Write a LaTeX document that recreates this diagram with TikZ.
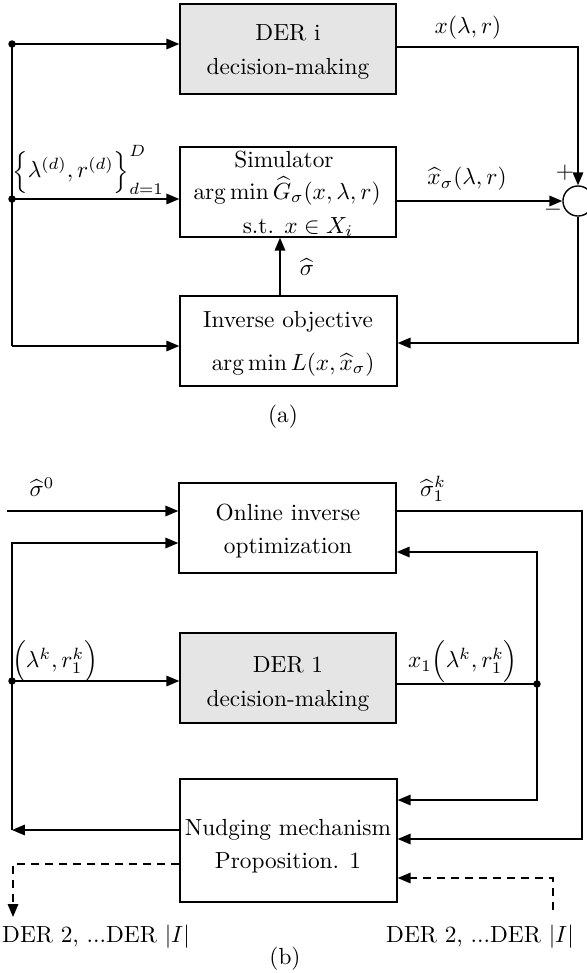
\documentclass[tikz,border=0pt]{standalone}
\usetikzlibrary{arrows.meta,fit}
\begin{document}
\begin{tikzpicture}[x=0.429pt,y=-0.429pt,
  box/.style={draw, line width=0.6pt, inner sep=0pt},
  greybox/.style={fill=black!10},
  plain/.style={line width=0.6pt},
  conn/.style={line width=0.6pt, -{Triangle[length=5.5pt,width=4.5pt]}},
  dashline/.style={dash pattern=on 3.6pt off 2.4pt},
  txt/.style={inner sep=0pt},
  jdot/.style={circle, fill, inner sep=0pt, minimum size=3.2pt}
]
\useasboundingbox (0,0) rectangle (586,973);

% ---------------- (a) ----------------
\coordinate (derNW) at (180,4);  \coordinate (derSE) at (396,94);
\coordinate (simNW) at (180,147); \coordinate (simSE) at (396,237);
\coordinate (invNW) at (180,296); \coordinate (invSE) at (397,386);
\node[box, greybox, fit=(derNW)(derSE)] (der) {};
\node[box, fit=(simNW)(simSE)] (sim) {};
\node[box, fit=(invNW)(invSE)] (inv) {};
\node[draw, circle, line width=0.6pt, inner sep=0pt, minimum size=12.9pt] (sum) at (578,201) {};

\node[txt, anchor=base] (derA1) at (288,40) {DER i};
\node[txt, anchor=base] (derA2) at (288,74) {decision-making};
\node[txt, anchor=base] (simA1) at (284,167) {Simulator};
\node[txt, anchor=base] (simA2) at (287,199) {$\arg\min {\widehat{G}}_{\sigma}(x,\lambda,r)$};
\node[txt, anchor=base] (simA3) at (298,233) {s.t. $x\in X_i$};
\node[txt, anchor=base] (invA1) at (288,327) {Inverse objective};
\node[txt, anchor=base] (invA2) at (293,370) {$\arg\min L(x,{\widehat{x}}_{\sigma})$};

\node[jdot] (d1) at (12,44) {};
\node[jdot] (d2) at (12,199) {};
\coordinate (c3) at (12,346);
\draw[plain] (d1.center) -- (c3);
\draw[conn] (d1.center) -- (d1.center -| der.west);
\draw[conn] (d2.center) -- (d2.center -| sim.west);
\draw[conn] (c3) -- (c3 -| inv.west);

\coordinate (c4) at (578,47);
\draw[conn] (c4 -| der.east) -- (c4) -- (sum.north);
\draw[conn] (sim.east |- sum.west) -- (sum.west);
\coordinate (c5) at (578,343);
\draw[conn] (sum.south) -- (c5) -- (c5 -| inv.east);
\coordinate (c6) at (280,0);
\draw[conn] (inv.north -| c6) -- (sim.south -| c6);

\node[txt] (lblA1) at (88,170) {$\Bigl\{\lambda^{(d)}, r^{(d)}\Bigr\}_{d=1}^{D}$};
\node[txt] (lblA2) at (468,28) {$x(\lambda,r)$};
\node[txt] (lblA3) at (467,179) {${\widehat{x}}_{\sigma}(\lambda,r)$};
\node[txt] (lblA4) at (307,267) {$\widehat{\sigma}$};
\node[txt] (plus) at (565,173) {$+$};
\node[txt] (minus) at (553,210) {$-$};
\node[txt] (capa) at (283,417) {(a)};

% ---------------- (b) ----------------
\coordinate (onlNW) at (179,483); \coordinate (onlSE) at (396,573);
\coordinate (dbNW) at (180,633);  \coordinate (dbSE) at (396,723);
\coordinate (nudNW) at (180,779); \coordinate (nudSE) at (397,902);
\node[box, fit=(onlNW)(onlSE)] (onl) {};
\node[box, greybox, fit=(dbNW)(dbSE)] (der1) {};
\node[box, fit=(nudNW)(nudSE)] (nud) {};

\node[txt, anchor=base] (onlB1) at (288,520) {Online inverse};
\node[txt, anchor=base] (onlB2) at (288,553) {optimization};
\node[txt, anchor=base] (derB1) at (288,672) {DER 1};
\node[txt, anchor=base] (derB2) at (288,706) {decision-making};
\node[txt, anchor=base] (nudB1) at (288,835) {Nudging mechanism};
\node[txt, anchor=base] (nudB2) at (288,868) {Proposition. 1};

\coordinate (s0) at (7,511);
\draw[conn] (s0) -- (s0 -| onl.west);
\coordinate (c7) at (12,543);
\node[jdot] (d3) at (12,681) {};
\coordinate (c8) at (12,830);
\draw[conn] (nud.west |- c8) -- (c8);
\draw[conn] (c8) -- (c7) -- (c7 -| onl.west);
\draw[conn] (d3.center) -- (d3.center -| der1.west);

\coordinate (c9) at (582,511);
\coordinate (c10) at (582,839);
\draw[conn] (onl.east |- c9) -- (c9) -- (c10) -- (c10 -| nud.east);

\node[jdot] (d4) at (537,684) {};
\coordinate (c11) at (537,552);
\coordinate (c12) at (537,800);
\draw[plain] (der1.east |- d4.center) -- (d4.center);
\draw[conn] (d4.center) -- (c11) -- (c11 -| onl.east);
\draw[conn] (d4.center) -- (c12) -- (c12 -| nud.east);

\coordinate (c13) at (13,864);
\coordinate (c14) at (13,917);
\draw[conn, dashline] (nud.west |- c13) -- (c13) -- (c14);
\coordinate (c15) at (553,910);
\coordinate (c16) at (553,878);
\draw[conn, dashline] (c15) -- (c16) -- (c16 -| nud.east);

\node[txt] (lblB1) at (42,487) {${\widehat{\sigma}}^{0}$};
\node[txt] (lblB2) at (433,489) {${\widehat{\sigma}}_{1}^{k}$};
\node[txt] (lblB3) at (55,662) {$\Bigl(\lambda^{k}, r_{1}^{k}\Bigr)$};
\node[txt] (lblB4) at (463,662) {$x_{1}\Bigl(\lambda^{k}, r_{1}^{k}\Bigr)$};
\node[txt, anchor=base] (lblB5) at (96,942) {DER 2, ...DER $|I|$};
\node[txt, anchor=base] (lblB6) at (480,942) {DER 2, ...DER $|I|$};
\node[txt] (capb) at (285,959) {(b)};
\end{tikzpicture}
\end{document}
